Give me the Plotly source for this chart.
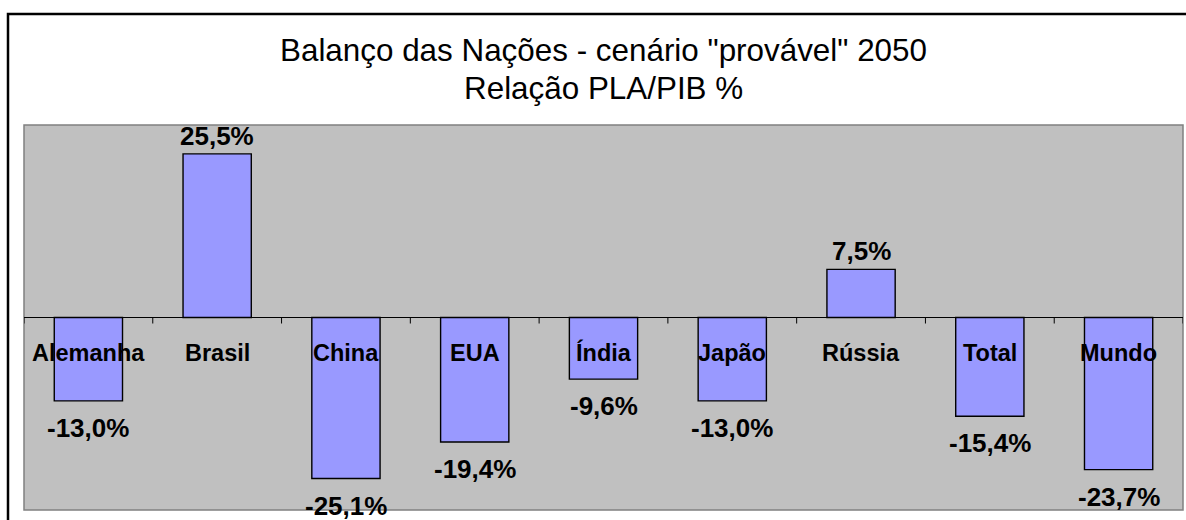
import plotly.graph_objects as go

categories = ["Alemanha", "Brasil", "China", "EUA", "Índia", "Japão", "Rússia", "Total", "Mundo"]
values = [-13.0, 25.5, -25.1, -19.4, -9.6, -13.0, 7.5, -15.4, -23.7]
value_labels = ["-13,0%", "25,5%", "-25,1%", "-19,4%", "-9,6%", "-13,0%", "7,5%", "-15,4%", "-23,7%"]
title_lines = ['Balanço das Nações - cenário "provável" 2050', "Relação PLA/PIB %"]

W, H = 1186, 520
ML, MR, MT, MB = 24, 3, 125, 10
PH = H - MT - MB
PW = W - ML - MR

def py(p):
    return (H - MB - p) / PH

def px(p):
    return (p - ML) / PW

FONT = "Liberation Sans, Arial, sans-serif"

fig = go.Figure()
fig.add_trace(go.Bar(
    x=categories, y=values, width=0.53,
    marker=dict(color="#9999FF", line=dict(color="#000000", width=1.4)),
    hoverinfo="skip",
))

annotations = []
for c, v, t in zip(categories, values, value_labels):
    if v >= 0:
        annotations.append(dict(x=c, y=v, xref="x", yref="y", text="<b>%s</b>" % t,
                                showarrow=False, yanchor="bottom", yshift=1,
                                font=dict(family=FONT, size=26, color="#000")))
    else:
        annotations.append(dict(x=c, y=v, xref="x", yref="y", text="<b>%s</b>" % t,
                                showarrow=False, yanchor="top", yshift=-10,
                                font=dict(family=FONT, size=26, color="#000")))
for c in categories:
    annotations.append(dict(x=c, y=0, xref="x", yref="y", text="<b>%s</b>" % c,
                            showarrow=False, yanchor="middle", yshift=-35,
                            font=dict(family=FONT, size=23.5, color="#000")))
annotations.append(dict(x=0.5, y=py(50), xref="paper", yref="paper", text=title_lines[0],
                        showarrow=False, yanchor="middle",
                        font=dict(family=FONT, size=31.4, color="#000")))
annotations.append(dict(x=0.5, y=py(89), xref="paper", yref="paper", text=title_lines[1],
                        showarrow=False, yanchor="middle",
                        font=dict(family=FONT, size=31.4, color="#000")))

shapes = []
# outer chart border
shapes.append(dict(type="rect", xref="paper", yref="paper",
                   x0=px(8), x1=px(1188), y0=py(522), y1=py(14),
                   line=dict(color="#000", width=2.5), layer="below"))
# plot area border
shapes.append(dict(type="rect", xref="paper", yref="paper", x0=0, x1=1, y0=0, y1=1,
                   line=dict(color="#808080", width=1.5), layer="above"))
# zero axis line
shapes.append(dict(type="line", xref="paper", yref="y", x0=0, x1=1, y0=0, y1=0,
                   line=dict(color="#000", width=1), layer="above"))
# tick marks at category boundaries
for i in range(len(categories) + 1):
    shapes.append(dict(type="line", xref="x", yref="y", x0=i - 0.5, x1=i - 0.5,
                       ysizemode="pixel", yanchor=0, y0=0, y1=-6,
                       line=dict(color="#000", width=1), layer="above"))

fig.update_layout(
    width=W, height=H,
    margin=dict(l=ML, r=MR, t=MT, b=MB, pad=0),
    paper_bgcolor="#FFFFFF", plot_bgcolor="#C0C0C0",
    showlegend=False,
    annotations=annotations, shapes=shapes,
    xaxis=dict(showticklabels=False, showgrid=False, zeroline=False, ticks="",
               range=[-0.5, len(categories) - 0.5], fixedrange=True),
    yaxis=dict(showticklabels=False, showgrid=False, zeroline=False, ticks="",
               range=[-30, 30], fixedrange=True),
)

fig.write_html("out.html", config={"displayModeBar": False},
               post_script="document.body.style.margin='0px';document.body.style.overflow='hidden';")
